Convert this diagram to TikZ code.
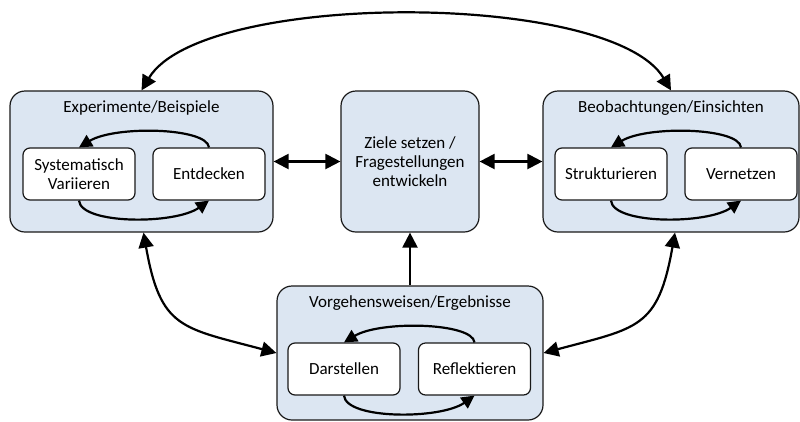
\documentclass[tikz,border=0pt]{standalone}
\usepackage{fontspec}
\setmainfont{Carlito}
\usetikzlibrary{arrows.meta,calc}
\definecolor{boxblue}{RGB}{220,230,242}
\definecolor{edgecol}{RGB}{25,25,25}
\begin{document}
\begin{tikzpicture}[x=1pt,y=1pt,
 group/.style={draw=edgecol,fill=boxblue,line width=1.2pt,rounded corners=15pt,inner sep=0pt,align=center,font=\fontsize{17}{19}\selectfont},
 innerbox/.style={draw=edgecol,fill=white,line width=1.2pt,rounded corners=7pt,minimum width=112pt,minimum height=52pt,align=center,font=\fontsize{17}{19}\selectfont,inner sep=0pt},
 titletext/.style={font=\fontsize{17}{19}\selectfont,inner sep=0pt},
 bigarrow/.style={{Triangle[length=15pt,width=15pt]}-{Triangle[length=15pt,width=15pt]},line width=2.2pt},
 onearrow/.style={-{Triangle[length=15pt,width=15pt]},line width=2.2pt},
 cyc/.style={-{Triangle[length=13pt,width=13pt]},line width=2.2pt}]
\useasboundingbox (0,0) rectangle (800,-421);
% group boxes
\node[group,minimum width=263pt,minimum height=141pt] (L) at (141.5,-161.5) {};
\node[group,minimum width=138pt,minimum height=141pt] (C) at (410,-161.5) {Ziele setzen /\\Fragestellungen\\entwickeln};
\node[group,minimum width=256pt,minimum height=141pt] (R) at (671,-161.5) {};
\node[group,minimum width=266pt,minimum height=134pt] (B) at (410,-353) {};
% titles
\node[titletext] (Lt) at (141.5,-108) {Experimente/Beispiele};
\node[titletext] (Rt) at (671,-108) {Beobachtungen/Einsichten};
\node[titletext] (Bt) at (410,-303) {Vorgehensweisen/Ergebnisse};
% inner boxes
\node[innerbox] (S) at (79,-174) {Systematisch\\Variieren};
\node[innerbox] (E) at (209,-174) {Entdecken};
\node[innerbox] (St) at (611,-174) {Strukturieren};
\node[innerbox] (V) at (741,-174) {Vernetzen};
\node[innerbox] (D) at (344,-369) {Darstellen};
\node[innerbox] (Rf) at (474.5,-369) {Reflektieren};
% cycles
\draw[cyc] (E.north) .. controls +(-2,20) and +(36,22) .. (S.north);
\draw[cyc] (S.south) .. controls +(2,-24) and +(-34,-24) .. (E.south);
\draw[cyc] (V.north) .. controls +(-2,20) and +(36,22) .. (St.north);
\draw[cyc] (St.south) .. controls +(2,-24) and +(-34,-24) .. (V.south);
\draw[cyc] (Rf.north) .. controls +(-2,20) and +(36,22) .. (D.north);
\draw[cyc] (D.south) .. controls +(2,-24) and +(-34,-24) .. (Rf.south);
% connectors between groups
\draw[bigarrow] (L.north) .. controls +(60,100) and +(-60,100) .. (R.north);
\draw[bigarrow] (L.east) -- (C.west);
\draw[bigarrow] (C.east) -- (R.west);
\draw[onearrow] (B.north) -- (C.south);
\draw[bigarrow] ([xshift=2pt]L.south) to[out=-80,in=165,looseness=1.4] (B.west);
\draw[bigarrow] ([xshift=4pt]R.south) to[out=-100,in=15,looseness=1.4] (B.east);
\end{tikzpicture}
\end{document}
